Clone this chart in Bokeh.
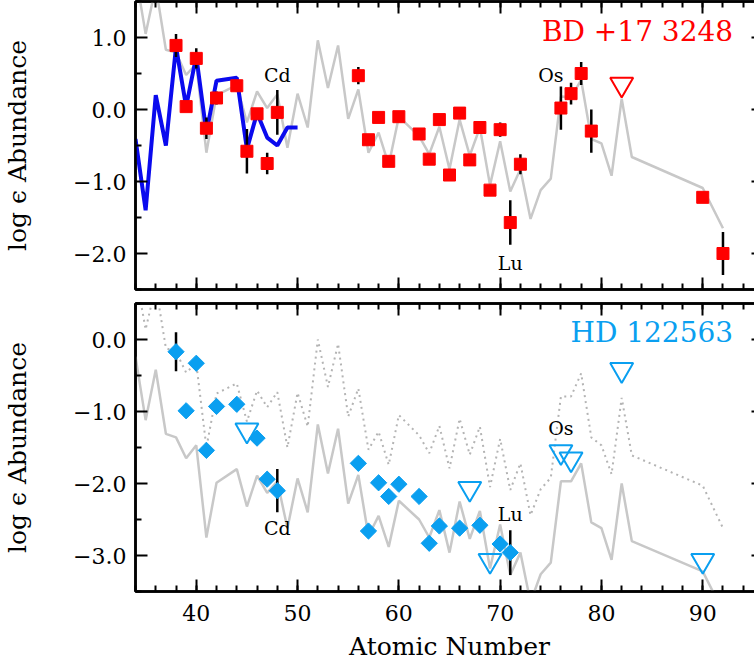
import math
from bokeh.plotting import figure
from bokeh.models import Range1d, LinearAxis, FixedTicker, CustomJSTickFormatter
from bokeh.layouts import column
from bokeh.embed import file_html
from bokeh.resources import INLINE
from bokeh.core.properties import value

FONT = "DejaVu Serif"
RED = "#ff0000"
CYAN = "#0a9ff0"
GRAY = "#c8c8c8"
BLUE = "#0a0aee"

# ---------------- data ----------------
# scaled solar r-process pattern (top panel, gray solid)
solar_z = [34, 35, 36, 37, 38, 39, 40, 41, 42, 44, 45, 46, 47, 48, 49, 50, 51, 52, 53, 54,
           55, 56, 57, 58, 59, 60, 62, 63, 64, 65, 66, 67, 68, 69, 70, 71, 72, 73, 74, 75,
           76, 77, 78, 79, 80, 81, 82, 83, 90, 92]
solar_top = [1.89, 1.05, 1.71, 0.83, 0.79, 0.48, 0.63, -0.60, 0.20, 0.34, -0.18, 0.25, 0.02, 0.21, -0.53, 0.22, -0.25, 0.96, 0.30, 0.89,
             -0.13, 0.28, -0.60, -0.32, -0.77, -0.10, -0.37, -0.62, -0.24, -0.83, -0.14, -0.64, -0.25, -1.05, -0.44, -1.14, -0.83, -1.52, -1.12, -0.96,
             0.18, 0.17, 0.41, -0.41, -0.47, -0.92, 0.15, -0.66, -1.09, -1.65]
# bottom panel, gray solid
solar_bot = [-0.24, -1.12, -0.42, -1.31, -1.36, -1.65, -1.47, -2.75, -1.99, -1.80, -2.32, -1.89, -2.13, -1.97, -2.62, -1.93, -2.40, -1.18, -1.86, -1.24,
             -2.28, -1.88, -2.73, -2.45, -2.88, -2.24, -2.50, -2.75, -2.37, -2.96, -2.25, -2.77, -2.38, -3.18, -2.57, -3.27, -2.96, -3.65, -3.26, -3.10,
             -1.97, -1.97, -1.72, -2.54, -2.62, -3.06, -2.00, -2.80, -3.22, -3.78]
# bottom panel, gray dotted
solar_dot = [0.93, 0.14, 0.75, -0.12, -0.17, -0.46, -0.33, -1.50, -0.75, -0.61, -1.14, -0.71, -0.94, -0.73, -1.50, -0.74, -1.21, 0.00, -0.66, -0.06,
             -1.07, -0.68, -1.53, -1.28, -1.74, -1.05, -1.33, -1.58, -1.20, -1.79, -1.10, -1.60, -1.21, -2.05, -1.38, -2.09, -1.72, -2.44, -2.08, -1.92,
             -0.79, -0.79, -0.47, -1.36, -1.47, -1.87, -0.81, -1.61, -2.03, -2.62]

# blue model line (top panel)
model_z = [34, 35, 36, 37, 38, 39, 40, 41, 42, 44, 45, 46, 47, 48, 49, 50]
model_y = [-0.41, -1.40, 0.20, -0.50, 0.87, 0.04, 0.74, -0.32, 0.40, 0.44, -0.55, -0.05, -0.39, -0.50, -0.25, -0.25]

# BD +17 3248
bd_z = [38, 39, 40, 41, 42, 44, 45, 46, 47, 48, 56, 57, 58, 59, 60, 62, 63, 64, 65, 66,
        67, 68, 69, 70, 71, 72, 76, 77, 78, 79, 90, 92]
bd_eps = [0.89, 0.04, 0.71, -0.26, 0.16, 0.33, -0.58, -0.06, -0.75, -0.04, 0.47, -0.42, -0.11, -0.72, -0.10, -0.34, -0.69, -0.14, -0.91, -0.05,
          -0.70, -0.25, -1.12, -0.28, -1.57, -0.76, 0.02, 0.22, 0.50, -0.30, -1.22, -2.00]
bd_err = [0.16, 0.05, 0.14, 0.15, 0.09, 0.08, 0.31, 0.06, 0.15, 0.31, 0.12, 0.05, 0.05, 0.05, 0.05, 0.05, 0.05, 0.05, 0.05, 0.05,
          0.05, 0.05, 0.05, 0.10, 0.31, 0.14, 0.30, 0.15, 0.16, 0.30, 0.07, 0.30]
bd_lim_z = [82]
bd_lim = [0.35]

# HD 122563
hd_z = [38, 39, 40, 41, 42, 44, 46, 47, 48, 56, 57, 58, 59, 60, 62, 63, 64, 66, 68, 70, 71]
hd_eps = [-0.17, -0.99, -0.33, -1.54, -0.93, -0.90, -1.37, -1.94, -2.10, -1.72, -2.66, -1.99, -2.18, -2.01, -2.18, -2.83, -2.59, -2.62, -2.58, -2.84, -2.96]
hd_err = [0.27, 0.08, 0.05, 0.05, 0.07, 0.08, 0.07, 0.08, 0.30, 0.05, 0.05, 0.05, 0.05, 0.05, 0.05, 0.05, 0.05, 0.05, 0.05, 0.05, 0.31]
hd_lim_z = [45, 67, 69, 76, 77, 82, 90]
hd_lim = [-1.26, -2.07, -3.07, -1.56, -1.66, -0.42, -3.07]

top_notes = [("Cd", 48, 0.48), ("Os", 75, 0.48), ("Lu", 71, -2.13)]
bot_notes = [("Cd", 48, -2.62), ("Os", 76, -1.23), ("Lu", 71, -2.43)]

x_major = [40, 50, 60, 70, 80, 90]
x_minor = list(range(34, 97, 2))

xr = Range1d(34, 96)

fmt_num = CustomJSTickFormatter(code="""
const s = Math.abs(tick).toFixed(1);
return (tick < -1e-9 ? "\u2212" : "") + s;
""")
fmt_int = CustomJSTickFormatter(code="return String(Math.round(tick));")
fmt_blank = CustomJSTickFormatter(code="return '';")


def style_axis(ax):
    ax.axis_line_color = "black"
    ax.axis_line_width = 2.5
    ax.major_tick_in = 12
    ax.major_tick_out = 0
    ax.minor_tick_in = 6
    ax.minor_tick_out = 0
    ax.major_tick_line_width = 2
    ax.minor_tick_line_width = 2
    ax.major_tick_line_color = "black"
    ax.minor_tick_line_color = "black"
    ax.major_label_text_font = FONT
    ax.major_label_text_font_size = "22px"
    ax.major_label_text_color = "black"


def make_panel(ylo, yhi, ymaj, ymin, labeled_x, border_top, frame_h):
    p = figure(frame_width=628, frame_height=frame_h, x_range=xr, y_range=Range1d(ylo, yhi),
               output_backend="svg", toolbar_location=None,
               x_axis_location=None, y_axis_location=None,
               min_border_left=123, min_border_right=2,
               min_border_top=border_top, min_border_bottom=2)
    p.xgrid.visible = False
    p.ygrid.visible = False
    p.outline_line_color = "black"
    p.outline_line_width = 2.5
    p.background_fill_color = "white"
    p.border_fill_color = "white"

    xt = FixedTicker(ticks=x_major, minor_ticks=x_minor)
    yt = FixedTicker(ticks=ymaj, minor_ticks=ymin)

    bx = LinearAxis(ticker=xt, formatter=fmt_int if labeled_x else fmt_blank)
    style_axis(bx)
    if labeled_x:
        bx.major_label_standoff = 13
        bx.axis_label = "Atomic Number"
        bx.axis_label_text_font = FONT
        bx.axis_label_text_font_size = "25px"
        bx.axis_label_text_font_style = "normal"
        bx.axis_label_text_color = "black"
        bx.axis_label_standoff = 8
    else:
        bx.major_label_standoff = 0
    p.add_layout(bx, "below")

    tx = LinearAxis(ticker=xt, formatter=fmt_blank, major_label_standoff=0)
    style_axis(tx)
    p.add_layout(tx, "above")

    ly = LinearAxis(ticker=yt, formatter=fmt_num)
    style_axis(ly)
    ly.major_label_standoff = 9
    ly.axis_label = "log \u03f5 Abundance"
    ly.axis_label_text_font = FONT
    ly.axis_label_text_font_size = "25px"
    ly.axis_label_text_font_style = "normal"
    ly.axis_label_text_color = "black"
    ly.axis_label_standoff = 38
    p.add_layout(ly, "left")

    ry = LinearAxis(ticker=yt, formatter=fmt_blank, major_label_standoff=0)
    style_axis(ry)
    p.add_layout(ry, "right")
    return p


# ---------------- top panel ----------------
p1 = make_panel(-2.5, 1.5, [-2, -1, 0, 1], [-2.5, -1.5, -0.5, 0.5, 1.5], False, 1, 288)
p1.line(solar_z, solar_top, line_color=GRAY, line_width=2.5)
p1.line(model_z, model_y, line_color=BLUE, line_width=4)
p1.segment(x0=bd_z, y0=[e - s for e, s in zip(bd_eps, bd_err)],
           x1=bd_z, y1=[e + s for e, s in zip(bd_eps, bd_err)],
           line_color="black", line_width=2.5)
p1.scatter(bd_z, bd_eps, marker="square", size=12, fill_color=RED, line_color=RED)
p1.scatter(bd_lim_z, bd_lim, marker="inverted_triangle", size=23, fill_color=None,
           line_color=RED, line_width=2)
p1.text(x=[n[1] for n in top_notes], y=[n[2] for n in top_notes], text=[n[0] for n in top_notes],
        text_font=value(FONT), text_font_size="19px", text_color="black",
        text_align="center", text_baseline="middle")
p1.text(x=[93.0], y=[1.08], text=["BD +17 3248"], text_font=value(FONT), text_font_size="28px",
        text_color=RED, text_align="right", text_baseline="middle")

# ---------------- bottom panel ----------------
p2 = make_panel(-3.5, 0.5, [-3, -2, -1, 0], [-3.5, -2.5, -1.5, -0.5, 0.5], True, 12, 288)
p2.line(solar_z, solar_dot, line_color="#b4b4b4", line_width=2, line_dash="2 4")
p2.line(solar_z, solar_bot, line_color=GRAY, line_width=2.5)
p2.segment(x0=hd_z, y0=[e - s for e, s in zip(hd_eps, hd_err)],
           x1=hd_z, y1=[e + s for e, s in zip(hd_eps, hd_err)],
           line_color="black", line_width=2.5)
p2.scatter(hd_z, hd_eps, marker="square", angle=math.pi / 4, size=11.5,
           fill_color=CYAN, line_color=CYAN)
p2.scatter(hd_lim_z, hd_lim, marker="inverted_triangle", size=23, fill_color=None,
           line_color=CYAN, line_width=2)
p2.text(x=[n[1] for n in bot_notes], y=[n[2] for n in bot_notes], text=[n[0] for n in bot_notes],
        text_font=value(FONT), text_font_size="19px", text_color="black",
        text_align="center", text_baseline="middle")
p2.text(x=[93.0], y=[0.10], text=["HD 122563"], text_font=value(FONT), text_font_size="28px",
        text_color=CYAN, text_align="right", text_baseline="middle")

layout = column(p1, p2)
open("out.html", "w").write(file_html(layout, INLINE))
